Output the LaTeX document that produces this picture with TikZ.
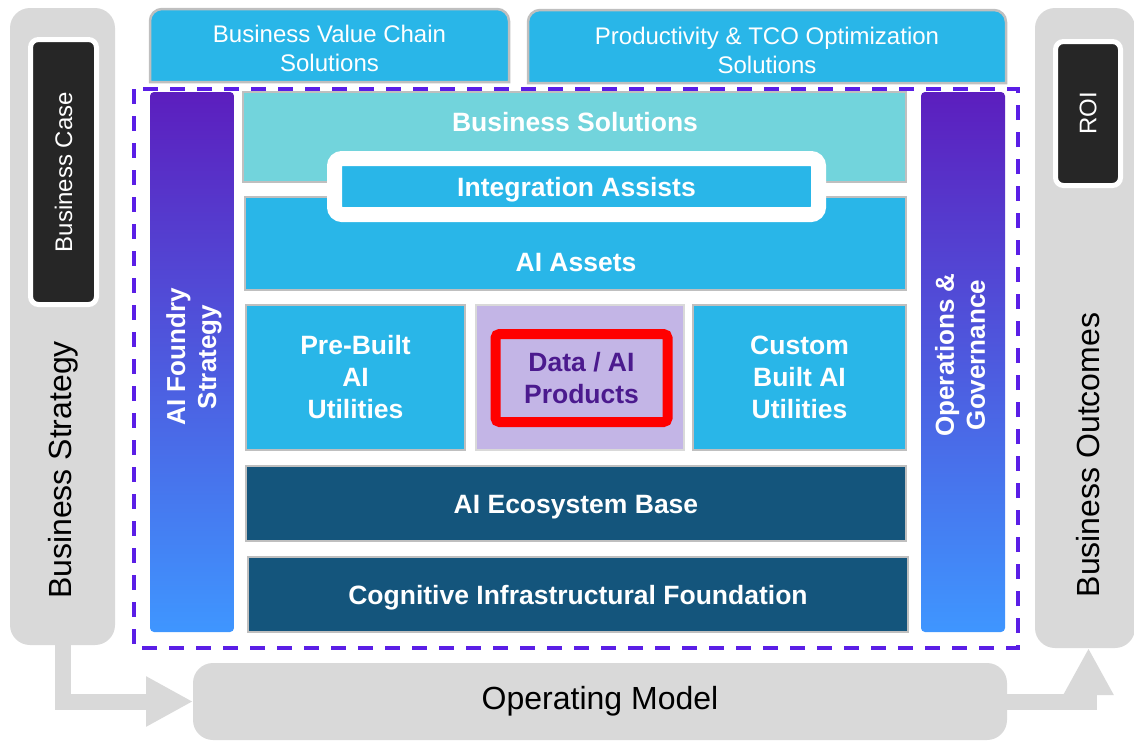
\documentclass[tikz,border=0pt]{standalone}
\usepackage{fontspec}
\setmainfont{Liberation Sans}
\usetikzlibrary{arrows.meta}

\definecolor{graybg}{HTML}{D9D9D9}
\definecolor{casebk}{HTML}{262626}
\definecolor{skyblue}{HTML}{29B6E8}
\definecolor{tealbox}{HTML}{72D4DC}
\definecolor{navybox}{HTML}{14557C}
\definecolor{lilac}{HTML}{C3B5E6}
\definecolor{plum}{HTML}{4B1A8E}
\definecolor{framev}{HTML}{5A1EE6}
\definecolor{edgegray}{HTML}{BFBFBF}
\definecolor{barpurple}{HTML}{5C1EBE}
\definecolor{barblue}{HTML}{3F96FF}

\tikzset{
  box/.style={rectangle, inner sep=0pt, outer sep=0pt},
  graybar/.style={box, fill=graybg, rounded corners=20pt},
  blackcase/.style={box, fill=casebk, draw=white, line width=5pt, rounded corners=8pt},
  casetxt/.style={text=white, font=\fontsize{24}{28}\selectfont},
  bigtxt/.style={font=\fontsize{32}{36}\selectfont},
  topbox/.style={fill=skyblue, draw=edgegray, line width=2.5pt},
  toptxt/.style={text=white, align=center, font=\fontsize{24}{29}\selectfont},
  sidebar/.style={box, rounded corners=4pt, top color=barpurple, bottom color=barblue},
  bartxt/.style={text=white, align=center, font=\bfseries\fontsize{26}{31}\selectfont},
  layer/.style={box, draw=edgegray, line width=2.5pt, text=white, align=center, font=\bfseries\fontsize{26.5}{32}\selectfont},
  layertxt/.style={text=white, align=center, font=\bfseries\fontsize{26.5}{32}\selectfont},
  oneline/.style={text height=19pt, text depth=0pt},
  fatarrow/.style={color=graybg, line width=16pt, -{Triangle[length=47pt,width=47pt]}},
}

\begin{document}
\begin{tikzpicture}[x=1pt,y=-1pt]
\useasboundingbox (0,0) rectangle (1134,740);
%左右の帯%
\node[graybar, minimum width=105pt, minimum height=637pt] (strategy) at (62.5,326.5) {};
\node[graybar, minimum width=100pt, minimum height=640pt] (outcomes) at (1085,328) {};
\node[bigtxt, rotate=90] (strategytxt) at (63,470) {Business Strategy};
\node[bigtxt, rotate=90] (outcomestxt) at (1088,455) {Business Outcomes};
%黒い箱%
\node[blackcase, minimum width=66pt, minimum height=265pt] (bcase) at (63.5,172) {};
\node[casetxt, rotate=90] (bcasetxt) at (bcase) {Business Case};
\node[blackcase, minimum width=65pt, minimum height=144pt] (roi) at (1088,113.5) {};
\node[casetxt, rotate=90] (roitxt) at (roi) {ROI};
%下の箱と矢印%
\node[graybar, bigtxt, minimum width=814pt, minimum height=77pt] (opmodel) at (600,701.5) {Operating Model};
\coordinate (outtip) at (1088.5,648);
\draw[fatarrow] (strategy.south) |- (opmodel.west);
\draw[fatarrow] (opmodel.east) -| (outtip);
%点線の枠%
\draw[framev, line width=4pt, dash pattern=on 15pt off 12pt] (134,89) rectangle (1018,648);
%上の箱%
\node[box, minimum width=359pt, minimum height=73pt] (valuechain) at (329.5,45.5) {};
\filldraw[topbox] (valuechain.south west) [rounded corners=12pt] -- (valuechain.north west) -- (valuechain.north east) [sharp corners] -- (valuechain.south east) -- cycle;
\node[toptxt] (valuechaintxt) at (329.5,48.5) {Business Value Chain\\Solutions};
\node[box, minimum width=478pt, minimum height=73pt] (prodtco) at (767,46.5) {};
\filldraw[topbox] (prodtco.south west) [rounded corners=12pt] -- (prodtco.north west) -- (prodtco.north east) [sharp corners] -- (prodtco.south east) -- cycle;
\node[toptxt] (prodtcotxt) at (767,50.5) {Productivity \& TCO Optimization\\Solutions};
%グラデーションの帯%
\node[sidebar, minimum width=84pt, minimum height=540pt] (foundry) at (192,362) {};
\node[bartxt, rotate=90] (foundrytxt) at (194,357) {AI Foundry\\Strategy};
\node[sidebar, minimum width=84pt, minimum height=540pt] (opsgov) at (963,362) {};
\node[bartxt, rotate=90] (opsgovtxt) at (960,355) {Operations \&\\Governance};
%層%
\node[layer, fill=tealbox, minimum width=663pt, minimum height=90pt] (bizsol) at (574.5,137) {};
\node[layertxt, oneline] (bizsoltxt) at (575,122) {Business Solutions};
\node[layer, fill=skyblue, minimum width=661pt, minimum height=93pt] (aiassets) at (575.5,243.5) {};
\node[layertxt, oneline] (aiassetstxt) at (576,262) {AI Assets};
\node[box, layertxt, oneline, fill=skyblue, draw=white, line width=15pt, rounded corners=7.5pt, minimum width=484pt, minimum height=56pt] (integ) at (576.5,186.5) {Integration Assists};
%中段%
\node[layer, fill=skyblue, minimum width=219pt, minimum height=145pt] (prebuilt) at (355.5,377.5) {Pre-Built\\AI\\Utilities};
\node[layer, fill=lilac, draw=graybg, minimum width=208pt, minimum height=145pt] (dataai) at (580,377.5) {};
\node[box, draw=red, line width=10pt, rounded corners=4pt, minimum width=172pt, minimum height=88pt, text=plum, align=center, font=\bfseries\fontsize{26.5}{32}\selectfont] (dataprod) at (581.5,378) {Data / AI\\Products};
\node[layer, fill=skyblue, minimum width=213pt, minimum height=145pt] (custom) at (799.5,377.5) {Custom\\Built AI\\Utilities};
%下段%
\node[layer, oneline, fill=navybox, minimum width=660pt, minimum height=75pt] (ecobase) at (576,503.5) {AI Ecosystem Base};
\node[layer, oneline, fill=navybox, minimum width=660pt, minimum height=75pt] (cogfound) at (578,594.5) {Cognitive Infrastructural Foundation};
\end{tikzpicture}
\end{document}
